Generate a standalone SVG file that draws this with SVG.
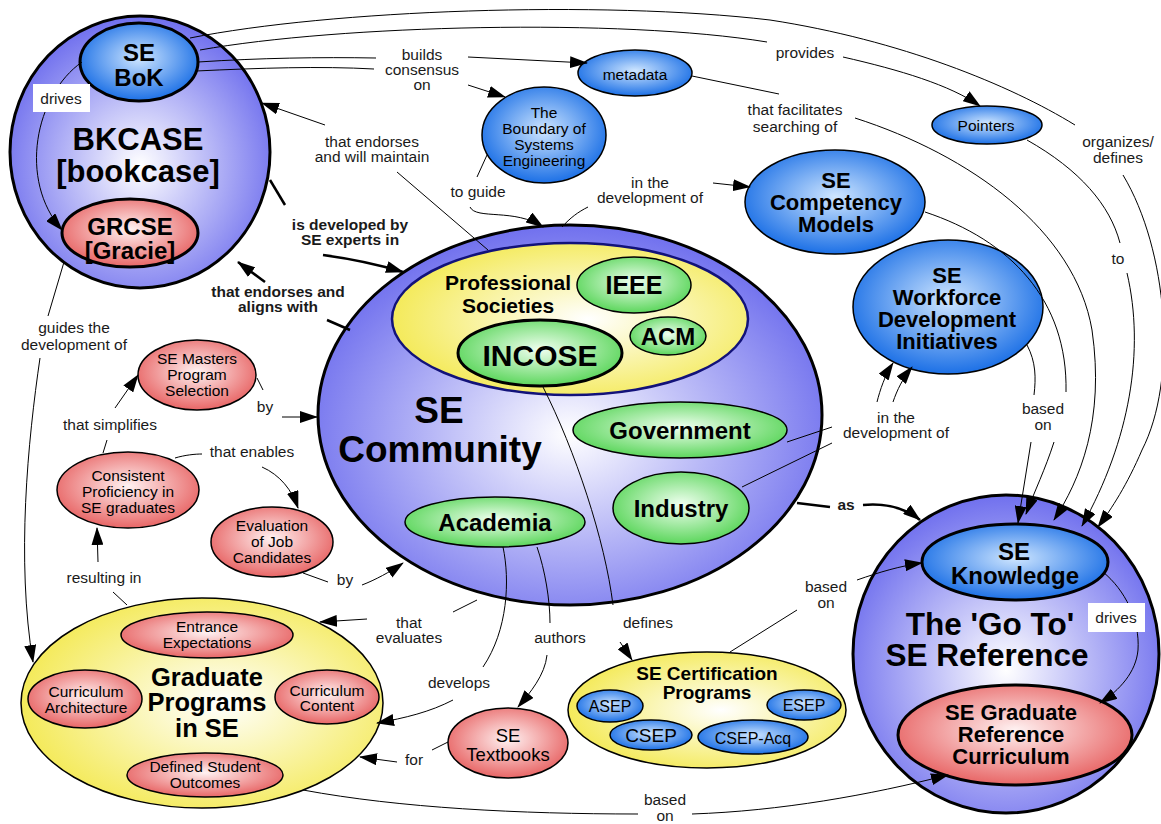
<svg xmlns="http://www.w3.org/2000/svg" width="1161" height="824" viewBox="0 0 1161 824">
<defs>
<radialGradient id="gPurple" cx="50%" cy="55%" r="55%"><stop offset="0" stop-color="#ffffff"/><stop offset="1" stop-color="#7070ee"/></radialGradient>
<radialGradient id="gBlue" cx="50%" cy="45%" r="55%"><stop offset="0" stop-color="#cfe6ff"/><stop offset="1" stop-color="#1c70e6"/></radialGradient>
<radialGradient id="gPink" cx="50%" cy="45%" r="55%"><stop offset="0" stop-color="#fff2f2"/><stop offset="1" stop-color="#e86666"/></radialGradient>
<radialGradient id="gGreen" cx="50%" cy="45%" r="55%"><stop offset="0" stop-color="#f0fff0"/><stop offset="1" stop-color="#5cd65c"/></radialGradient>
<radialGradient id="gYellow" cx="55%" cy="50%" r="55%"><stop offset="0" stop-color="#ffffff"/><stop offset="1" stop-color="#f4ea5a"/></radialGradient>
<marker id="arr" markerUnits="userSpaceOnUse" markerWidth="18" markerHeight="12" refX="17" refY="6" orient="auto"><path d="M0,0 L18,6 L0,12 z" fill="#000"/></marker>
<style>
.big{fill:url(#gPurple);stroke:#000;stroke-width:3}
.blue{fill:url(#gBlue);stroke:#000;stroke-width:1.5}
.pink{fill:url(#gPink);stroke:#000;stroke-width:1.5}
.green{fill:url(#gGreen);stroke:#000;stroke-width:1.5}
.yellow{fill:url(#gYellow);stroke:#000;stroke-width:1.5}
.thick{stroke-width:3}
text{font-family:"Liberation Sans",Arial,sans-serif;fill:#000;text-anchor:middle}
.b{font-weight:bold}
.lbl{font-size:15.5px;fill:#1a1a1a}
.sm{font-size:15.5px}
.c path{fill:none;stroke:#000;stroke-width:1}
.c path.t{stroke-width:2.5}
.c .a{marker-end:url(#arr)}
</style>
</defs>

<g id="bkcase">
<ellipse class="big" cx="140" cy="152" rx="130" ry="136"/>
<text class="b" x="138" y="150" font-size="31">BKCASE</text>
<text class="b" x="138" y="182" font-size="31">[bookcase]</text>
</g>
<g id="se-bok">
<ellipse class="blue thick" cx="139" cy="62" rx="59" ry="39"/>
<text class="b" x="139" y="61" font-size="24">SE</text>
<text class="b" x="139" y="86" font-size="24">BoK</text>
</g>
<g id="grcse">
<ellipse class="pink thick" cx="130" cy="233" rx="68" ry="34"/>
<text class="b" x="130" y="235" font-size="24">GRCSE</text>
<text class="b" x="130" y="259" font-size="24">[Gracie]</text>
</g>

<g id="se-community">
<ellipse class="big" cx="570" cy="415" rx="252" ry="190"/>
<text class="b" x="439" y="423" font-size="37">SE</text>
<text class="b" x="440" y="462" font-size="37">Community</text>
</g>
<g id="professional-societies">
<ellipse cx="570" cy="319" rx="178" ry="76" fill="url(#gYellow)" stroke="#12127a" stroke-width="2.5"/>
<text class="b" x="508" y="290" font-size="21">Professional</text>
<text class="b" x="508" y="313" font-size="21">Societies</text>
</g>
<g id="ieee"><ellipse class="green" cx="634" cy="285" rx="57" ry="28"/><text class="b" x="634" y="294" font-size="25">IEEE</text></g>
<g id="acm"><ellipse class="green" cx="668" cy="336" rx="38" ry="19"/><text class="b" x="668" y="345" font-size="24">ACM</text></g>
<g id="incose"><ellipse class="green thick" cx="540" cy="353" rx="82" ry="33"/><text class="b" x="540" y="366" font-size="30">INCOSE</text></g>
<g id="government"><ellipse class="green" cx="680" cy="430" rx="107" ry="28"/><text class="b" x="680" y="439" font-size="24">Government</text></g>
<g id="industry"><ellipse class="green" cx="681" cy="508" rx="68" ry="36"/><text class="b" x="681" y="517" font-size="24">Industry</text></g>
<g id="academia"><ellipse class="green" cx="495" cy="522" rx="90" ry="25"/><text class="b" x="495" y="531" font-size="24">Academia</text></g>

<g id="boundary">
<ellipse class="blue" cx="544" cy="135" rx="62" ry="48"/>
<text class="sm" x="544" y="118">The</text>
<text class="sm" x="544" y="134">Boundary of</text>
<text class="sm" x="544" y="150">Systems</text>
<text class="sm" x="544" y="166">Engineering</text>
</g>
<g id="metadata"><ellipse class="blue" cx="635" cy="73" rx="57" ry="23"/><text class="sm" x="635" y="80">metadata</text></g>
<g id="pointers"><ellipse class="blue" cx="987" cy="125" rx="55" ry="19"/><text class="sm" x="986" y="131">Pointers</text></g>
<g id="competency">
<ellipse class="blue" cx="835" cy="202" rx="90" ry="52"/>
<text class="b" x="836" y="188" font-size="22">SE</text>
<text class="b" x="836" y="210" font-size="22">Competency</text>
<text class="b" x="836" y="232" font-size="22">Models</text>
</g>
<g id="workforce">
<ellipse class="blue" cx="948" cy="307" rx="95" ry="67"/>
<text class="b" x="947" y="283" font-size="22">SE</text>
<text class="b" x="947" y="305" font-size="22">Workforce</text>
<text class="b" x="947" y="327" font-size="22">Development</text>
<text class="b" x="947" y="349" font-size="22">Initiatives</text>
</g>

<g id="go-to-reference">
<ellipse class="big" cx="1006" cy="654" rx="153" ry="159"/>
<text class="b" x="990" y="635" font-size="31.5">The 'Go To'</text>
<text class="b" x="987" y="666" font-size="31.5">SE Reference</text>
</g>
<g id="se-knowledge">
<ellipse class="blue thick" cx="1015" cy="562" rx="93" ry="38"/>
<text class="b" x="1014" y="560" font-size="24">SE</text>
<text class="b" x="1015" y="584" font-size="24">Knowledge</text>
</g>
<g id="se-grad-ref">
<ellipse class="pink thick" cx="1015" cy="735" rx="117" ry="50"/>
<text class="b" x="1011" y="720" font-size="22">SE Graduate</text>
<text class="b" x="1011" y="742" font-size="22">Reference</text>
<text class="b" x="1011" y="764" font-size="22">Curriculum</text>
</g>

<g id="graduate-programs">
<ellipse class="yellow" cx="202" cy="703" rx="181" ry="105"/>
<text class="b" x="207" y="686" font-size="25.5">Graduate</text>
<text class="b" x="207" y="711" font-size="25.5">Programs</text>
<text class="b" x="207" y="737" font-size="25.5">in SE</text>
</g>
<g id="entrance"><ellipse class="pink" cx="207" cy="635" rx="86" ry="23"/><text class="sm" x="207" y="632">Entrance</text><text class="sm" x="207" y="648">Expectations</text></g>
<g id="curr-arch"><ellipse class="pink" cx="85" cy="699" rx="57" ry="29"/><text class="sm" x="86" y="697">Curriculum</text><text class="sm" x="86" y="713">Architecture</text></g>
<g id="curr-content"><ellipse class="pink" cx="327" cy="697" rx="52" ry="27"/><text class="sm" x="327" y="696">Curriculum</text><text class="sm" x="327" y="711">Content</text></g>
<g id="outcomes"><ellipse class="pink" cx="205" cy="775" rx="78" ry="22"/><text class="sm" x="205" y="772">Defined Student</text><text class="sm" x="205" y="788">Outcomes</text></g>

<g id="masters"><ellipse class="pink" cx="197" cy="375" rx="59" ry="35"/><text class="sm" x="197" y="364">SE Masters</text><text class="sm" x="197" y="380">Program</text><text class="sm" x="197" y="396">Selection</text></g>
<g id="consistent"><ellipse class="pink" cx="128" cy="490" rx="71" ry="38"/><text class="sm" x="128" y="481">Consistent</text><text class="sm" x="128" y="497">Proficiency in</text><text class="sm" x="128" y="513">SE graduates</text></g>
<g id="evaluation"><ellipse class="pink" cx="272" cy="542" rx="61" ry="35"/><text class="sm" x="272" y="531">Evaluation</text><text class="sm" x="272" y="547">of Job</text><text class="sm" x="272" y="563">Candidates</text></g>
<g id="textbooks"><ellipse class="pink" cx="508" cy="743" rx="60" ry="35"/><text x="508" y="742" font-size="18.5">SE</text><text x="508" y="761" font-size="18.5">Textbooks</text></g>

<g id="certification">
<ellipse class="yellow" cx="707" cy="710" rx="139" ry="58"/>
<text class="b" x="707" y="680" font-size="19">SE Certification</text>
<text class="b" x="707" y="699" font-size="19">Programs</text>
</g>
<g id="asep"><ellipse class="blue" cx="610" cy="706" rx="33" ry="16"/><text x="610" y="712" font-size="16">ASEP</text></g>
<g id="esep"><ellipse class="blue" cx="804" cy="705" rx="37" ry="15"/><text x="804" y="711" font-size="16">ESEP</text></g>
<g id="csep"><ellipse class="blue" cx="651" cy="735" rx="41" ry="15"/><text x="651" y="742" font-size="19">CSEP</text></g>
<g id="csep-acq"><ellipse class="blue" cx="753" cy="737" rx="55" ry="17"/><text x="753" y="744" font-size="16">CSEP-Acq</text></g>

<g id="connectors" class="c">
<path d="M190,38 C330,10 600,0 770,20 C900,40 1010,85 1075,125"/>
<path class="a" d="M1123,175 C1168,250 1178,380 1142,450 C1127,485 1112,508 1098,527"/>
<path d="M200,50 C340,25 620,18 767,42"/>
<path class="a" d="M843,57 C900,70 950,85 980,106"/>
<path d="M198,62 C260,58 320,57 376,58"/>
<path d="M196,71 C260,68 320,66 374,69"/>
<path class="a" d="M468,57 L587,63"/>
<path class="a" d="M468,85 L505,97"/>
<path d="M692,76 L779,94"/>
<path class="a" d="M855,118 C970,155 1075,230 1092,330 C1105,420 1080,480 1054,520"/>
<path d="M1027,140 C1080,170 1110,205 1120,243"/>
<path class="a" d="M1127,273 C1145,350 1130,440 1082,526"/>
<path d="M925,212 C1010,240 1068,300 1066,392"/>
<path d="M1027,345 C1036,362 1036,378 1034,395"/>
<path class="a" d="M1031,442 L1018,523"/>
<path class="a" d="M1054,442 C1045,470 1035,490 1026,514"/>
<path d="M487,155 L477,177"/>
<path class="a" d="M470,207 C476,220 515,208 543,227"/>
<path d="M562,227 C570,218 578,212 588,207"/>
<path class="a" d="M713,183 L750,187"/>
<path d="M488,250 L397,172"/>
<path class="a" d="M325,125 L262,103"/>
<path class="t" d="M270,180 L285,205"/>
<path class="t a" d="M323,255 C345,258 370,262 403,272"/>
<path class="t a" d="M265,282 L238,262"/>
<path class="t" d="M327,320 L350,330"/>
<path d="M787,442 L832,427"/>
<path d="M742,487 L832,443"/>
<path class="a" d="M877,402 C880,390 885,375 893,363"/>
<path class="a" d="M893,402 C897,390 903,378 912,367"/>
<path class="t" d="M797,503 L830,507"/>
<path class="t a" d="M863,505 C885,503 905,508 920,520"/>
<path d="M257,378 L263,390"/>
<path class="a" d="M282,417 L317,417"/>
<path d="M103,453 L107,440"/>
<path class="a" d="M115,408 L138,375"/>
<path d="M175,458 C185,455 195,454 202,454"/>
<path class="a" d="M262,467 C280,475 292,490 298,508"/>
<path d="M303,573 L328,582"/>
<path class="a" d="M362,585 C375,580 390,572 403,563"/>
<path d="M127,605 L113,592"/>
<path class="a" d="M98,562 L97,528"/>
<path d="M64,262 L48,316"/>
<path class="a" d="M40,358 C28,440 16,560 33,662"/>
<path d="M477,600 L453,612"/>
<path class="a" d="M367,619 L320,622"/>
<path d="M503,547 C510,580 508,630 483,667"/>
<path class="a" d="M453,700 C430,712 405,718 377,723"/>
<path d="M537,547 C545,570 550,600 550,623"/>
<path class="a" d="M547,655 C545,675 530,693 518,707"/>
<path d="M543,387 C575,450 605,540 613,605"/>
<path class="a" d="M620,642 L632,660"/>
<path d="M730,652 L797,610"/>
<path class="a" d="M857,580 C880,572 900,566 922,563"/>
<path d="M448,742 L432,750"/>
<path class="a" d="M397,762 L360,757"/>
<path d="M303,790 C400,808 520,814 638,814"/>
<path class="a" d="M692,814 C780,811 870,795 948,775"/>
<path class="a" d="M82,62 C35,95 18,180 62,230"/>
<path class="a" d="M1103,572 C1125,590 1140,620 1138,650 C1136,672 1120,690 1100,703"/>

<rect x="33" y="84" width="57" height="28" fill="#fff"/>
<text class="lbl" x="61" y="104">drives</text>
<rect x="1088" y="603" width="57" height="29" fill="#fff"/>
<text class="lbl" x="1116" y="623">drives</text>

<text class="lbl" x="422" y="60">builds</text>
<text class="lbl" x="422" y="75">consensus</text>
<text class="lbl" x="422" y="90">on</text>
<text class="lbl" x="805" y="58">provides</text>
<text class="lbl" x="795" y="115">that facilitates</text>
<text class="lbl" x="795" y="132">searching of</text>
<text class="lbl" x="1118" y="147">organizes/</text>
<text class="lbl" x="1118" y="163">defines</text>
<text class="lbl" x="1118" y="264">to</text>
<text class="lbl" x="372" y="147">that endorses</text>
<text class="lbl" x="372" y="162">and will maintain</text>
<text class="lbl" x="478" y="197">to guide</text>
<text class="lbl" x="650" y="188">in the</text>
<text class="lbl" x="650" y="203">development of</text>
<text class="lbl b" x="350" y="230">is developed by</text>
<text class="lbl b" x="350" y="245">SE experts in</text>
<text class="lbl b" x="278" y="297">that endorses and</text>
<text class="lbl b" x="278" y="312">aligns with</text>
<text class="lbl" x="74" y="333">guides the</text>
<text class="lbl" x="74" y="350">development of</text>
<text class="lbl" x="110" y="430">that simplifies</text>
<text class="lbl" x="252" y="457">that enables</text>
<text class="lbl" x="265" y="412">by</text>
<text class="lbl" x="345" y="585">by</text>
<text class="lbl" x="104" y="583">resulting in</text>
<text class="lbl" x="409" y="628">that</text>
<text class="lbl" x="409" y="643">evaluates</text>
<text class="lbl" x="459" y="688">develops</text>
<text class="lbl" x="560" y="643">authors</text>
<text class="lbl" x="648" y="628">defines</text>
<text class="lbl" x="414" y="765">for</text>
<text class="lbl" x="826" y="592">based</text>
<text class="lbl" x="826" y="608">on</text>
<text class="lbl" x="665" y="805">based</text>
<text class="lbl" x="665" y="821">on</text>
<text class="lbl b" x="846" y="510">as</text>
<text class="lbl" x="896" y="423">in the</text>
<text class="lbl" x="896" y="438">development of</text>
<text class="lbl" x="1043" y="414">based</text>
<text class="lbl" x="1043" y="430">on</text>
</g>
</svg>
